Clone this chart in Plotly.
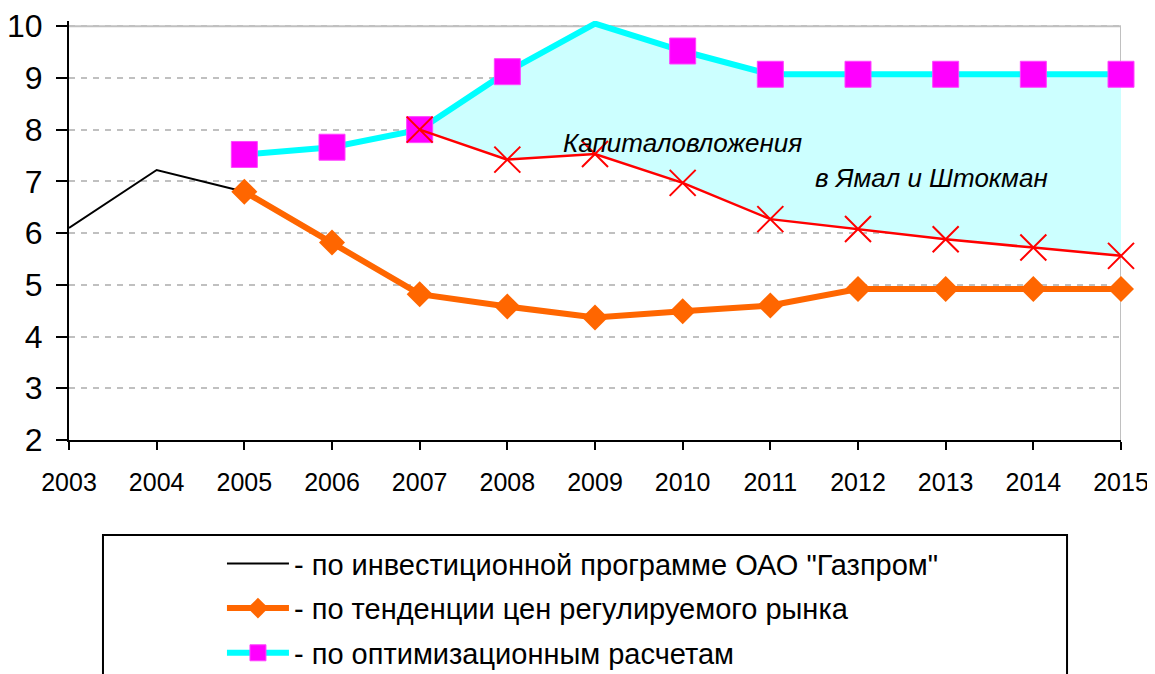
import plotly.graph_objects as go

# ---- data ----
years = [2003, 2004, 2005, 2006, 2007, 2008, 2009, 2010, 2011, 2012, 2013, 2014, 2015]

gazprom_years = [2003, 2004, 2005]
gazprom_vals = [6.1, 7.22, 6.8]

market_years = [2005, 2006, 2007, 2008, 2009, 2010, 2011, 2012, 2013, 2014, 2015]
market_vals = [6.8, 5.82, 4.82, 4.58, 4.37, 4.49, 4.6, 4.92, 4.92, 4.92, 4.92]

optim_years = [2005, 2006, 2007, 2008, 2009, 2010, 2011, 2012, 2013, 2014, 2015]
optim_vals = [7.52, 7.66, 8.0, 9.12, 10.05, 9.52, 9.07, 9.07, 9.07, 9.07, 9.07]
optim_marker_shown = [1, 1, 1, 1, 0, 1, 1, 1, 1, 1, 1]

invest_years = [2007, 2008, 2009, 2010, 2011, 2012, 2013, 2014, 2015]
invest_vals = [8.0, 7.42, 7.53, 6.97, 6.27, 6.08, 5.88, 5.72, 5.56]

legend_names = [
    '- по инвестиционной программе ОАО "Газпром"',
    '- по тенденции цен регулируемого рынка',
    '- по оптимизационным расчетам',
]
note_line1 = "Капиталовложения"
note_line2 = "в Ямал и Штокман"

FONT = "Liberation Sans, Arial, sans-serif"

fig = go.Figure()

# black line
fig.add_trace(go.Scatter(
    x=gazprom_years, y=gazprom_vals, mode="lines",
    line=dict(color="black", width=2),
    name=legend_names[0], legendgroup="g1", legendrank=1,
))

# fill region between red (investment) and optimized lines
start = optim_years.index(invest_years[0])
fig.add_trace(go.Scatter(
    x=invest_years, y=invest_vals, mode="lines",
    line=dict(width=0, color="rgba(0,0,0,0)"),
    showlegend=False, hoverinfo="skip", legendgroup="fill",
))
fig.add_trace(go.Scatter(
    x=optim_years[start:], y=optim_vals[start:], mode="lines",
    line=dict(width=0, color="rgba(0,0,0,0)"),
    fill="tonexty", fillcolor="#CCFFFF",
    showlegend=False, hoverinfo="skip", legendgroup="fill",
))

# cyan / magenta optimized line
fig.add_trace(go.Scatter(
    x=optim_years, y=optim_vals, mode="lines+markers",
    line=dict(color="#00FFFF", width=6),
    marker=dict(symbol="square", color="#FF00FF", opacity=1,
                size=[26 * s for s in optim_marker_shown],
                line=dict(color="#FF44FF", width=1)),
    cliponaxis=False,
    name=legend_names[2], legendgroup="g3", legendrank=3,
))

# orange line
fig.add_trace(go.Scatter(
    x=market_years, y=market_vals, mode="lines+markers",
    line=dict(color="#FF6600", width=6),
    marker=dict(symbol="diamond", color="#FF6600", size=20, opacity=1),
    cliponaxis=False,
    name=legend_names[1], legendgroup="g2", legendrank=2,
))

# red line with x markers
fig.add_trace(go.Scatter(
    x=invest_years, y=invest_vals, mode="lines+markers",
    line=dict(color="#FF0000", width=2.5),
    marker=dict(symbol="x-thin", size=26, color="#FF0000",
                line=dict(color="#FF0000", width=2)),
    cliponaxis=False,
    showlegend=False, legendgroup="red",
))

fig.add_annotation(x=2010.0, y=7.74, xref="x", yref="y", text=note_line1,
                   showarrow=False, font=dict(family=FONT, size=26, color="black", style="italic"),
                   xanchor="center", yanchor="middle")
fig.add_annotation(x=2012.84, y=7.06, xref="x", yref="y", text=note_line2,
                   showarrow=False, font=dict(family=FONT, size=26, color="black", style="italic"),
                   xanchor="center", yanchor="middle")

# plot border: solid grey top (at 10) and right edge
fig.add_shape(type="line", xref="x", yref="y", x0=years[0], x1=years[-1], y0=10, y1=10,
              line=dict(color="#C0C0C0", width=2), layer="below")
fig.add_shape(type="line", xref="x", yref="y", x0=years[-1], x1=years[-1], y0=2, y1=10,
              line=dict(color="#C0C0C0", width=2), layer="below")

# legend box
fig.add_shape(type="rect", xref="paper", yref="paper",
              x0=0.0323, x1=0.9487, y0=-0.2267, y1=-0.65,
              line=dict(color="black", width=2), fillcolor="rgba(0,0,0,0)")

# the page body has an 8px margin, so margins are reduced by 8 on the left/top
fig.update_layout(
    width=1155, height=674,
    margin=dict(l=61, r=42, t=13, b=242, autoexpand=False),
    paper_bgcolor="white", plot_bgcolor="white",
    font=dict(family=FONT, color="black"),
    showlegend=True,
    legend=dict(
        x=0.1454, y=-0.234, xanchor="left", yanchor="top",
        font=dict(family=FONT, size=29, color="black"),
        bgcolor="rgba(0,0,0,0)", borderwidth=0,
        tracegroupgap=4, traceorder="grouped", itemwidth=62,
    ),
    xaxis=dict(
        range=[years[0], years[-1]], tickvals=years, ticktext=[str(y) for y in years],
        showgrid=False, zeroline=False, automargin=False,
        showline=True, linecolor="black", linewidth=2,
        ticks="outside", ticklen=8, tickwidth=2, tickcolor="black",
        tickfont=dict(family=FONT, size=25, color="black"),
        ticklabelstandoff=11, ticklabeloverflow="allow",
    ),
    yaxis=dict(
        range=[2, 10.1], tickvals=[2, 3, 4, 5, 6, 7, 8, 9, 10],
        showgrid=True, gridcolor="#C0C0C0", gridwidth=2, griddash="6px,6px",
        zeroline=False, automargin=False,
        showline=True, linecolor="black", linewidth=2,
        ticks="outside", ticklen=11, tickwidth=2, tickcolor="black",
        tickfont=dict(family=FONT, size=32, color="black"),
        ticklabelstandoff=7, ticklabeloverflow="allow",
    ),
)

fig.write_html("out.html")
